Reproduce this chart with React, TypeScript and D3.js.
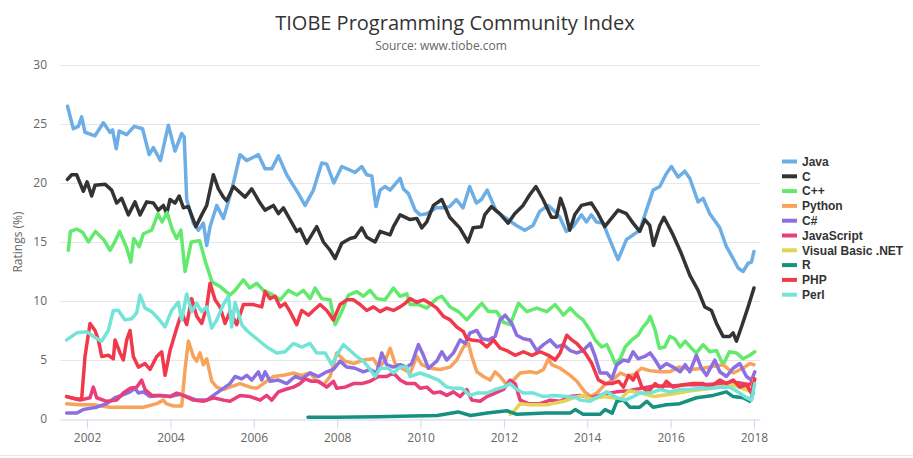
import React, { useRef, useEffect } from 'react';
import * as d3 from 'd3';

const WIDTH = 913;
const HEIGHT = 458;

// [year, rating %] pairs
const java = [[2001.53,26.5],[2001.67,24.6],[2001.79,24.8],[2001.87,25.6],[2001.95,24.3],[2002.19,24.0],[2002.39,25.1],[2002.55,24.3],[2002.61,24.5],[2002.70,22.9],[2002.77,24.4],[2002.95,24.1],[2003.13,24.8],[2003.33,24.6],[2003.49,22.4],[2003.59,23.0],[2003.76,21.9],[2003.95,24.9],[2004.11,22.7],[2004.27,24.2],[2004.33,23.9],[2004.39,18.6],[2004.55,16.6],[2004.67,16.0],[2004.79,16.6],[2004.87,14.7],[2004.95,16.3],[2005.11,18.1],[2005.27,17.0],[2005.47,19.4],[2005.67,22.4],[2005.83,21.9],[2006.11,22.4],[2006.27,21.2],[2006.43,21.2],[2006.59,22.3],[2006.79,20.7],[2007.07,19.1],[2007.23,18.1],[2007.43,19.4],[2007.63,21.7],[2007.75,21.6],[2007.92,20.0],[2008.11,21.4],[2008.43,20.9],[2008.59,21.4],[2008.71,20.7],[2008.83,20.6],[2008.93,18.0],[2009.03,19.4],[2009.15,19.7],[2009.27,19.4],[2009.51,20.4],[2009.59,19.5],[2009.71,19.1],[2009.87,17.7],[2009.99,17.3],[2010.15,17.4],[2010.38,17.9],[2010.54,17.9],[2010.70,18.0],[2010.86,18.6],[2011.02,17.9],[2011.18,19.7],[2011.34,18.3],[2011.46,18.6],[2011.60,19.4],[2011.82,17.6],[2012.06,17.0],[2012.30,16.4],[2012.50,16.0],[2012.70,16.4],[2012.86,17.6],[2013.06,18.1],[2013.22,17.6],[2013.34,17.1],[2013.50,15.9],[2013.66,16.3],[2013.86,17.3],[2013.98,16.7],[2014.10,17.3],[2014.22,16.7],[2014.38,16.6],[2014.54,15.2],[2014.74,13.5],[2014.94,15.2],[2015.10,15.6],[2015.26,16.0],[2015.42,17.7],[2015.58,19.4],[2015.74,19.7],[2015.90,20.8],[2016.02,21.4],[2016.18,20.5],[2016.34,21.0],[2016.46,20.4],[2016.66,18.4],[2016.78,18.7],[2016.94,17.4],[2017.18,16.2],[2017.34,14.6],[2017.50,13.6],[2017.62,12.8],[2017.74,12.5],[2017.86,13.2],[2017.94,13.3],[2018.0,14.2]];

const cLang = [[2001.53,20.3],[2001.63,20.7],[2001.75,20.7],[2001.91,19.3],[2002.0,20.1],[2002.11,18.9],[2002.19,19.8],[2002.43,19.9],[2002.59,19.4],[2002.71,18.3],[2002.83,18.7],[2002.99,17.3],[2003.15,18.4],[2003.27,17.3],[2003.43,18.4],[2003.59,18.3],[2003.71,17.7],[2003.83,18.1],[2003.91,17.4],[2003.99,18.6],[2004.11,18.3],[2004.21,18.9],[2004.31,17.9],[2004.43,18.0],[2004.61,16.3],[2004.75,17.3],[2004.87,18.1],[2005.03,20.7],[2005.15,19.5],[2005.27,18.8],[2005.35,18.5],[2005.51,19.7],[2005.79,18.8],[2005.95,19.5],[2006.15,18.3],[2006.27,17.7],[2006.47,18.1],[2006.59,17.4],[2006.71,17.9],[2006.87,16.9],[2007.03,15.9],[2007.11,16.1],[2007.27,14.9],[2007.51,16.3],[2007.67,15.0],[2007.83,14.3],[2007.95,13.6],[2008.11,14.9],[2008.31,15.3],[2008.43,15.4],[2008.59,16.2],[2008.71,15.4],[2008.91,15.0],[2009.03,15.9],[2009.27,15.6],[2009.35,16.3],[2009.51,17.3],[2009.75,16.9],[2009.91,17.0],[2010.03,16.2],[2010.15,16.7],[2010.31,18.1],[2010.51,18.6],[2010.70,17.1],[2010.94,16.2],[2011.14,15.0],[2011.26,16.2],[2011.46,16.3],[2011.54,17.3],[2011.70,18.0],[2011.90,17.4],[2012.10,16.6],[2012.26,17.4],[2012.46,18.1],[2012.62,19.0],[2012.77,19.7],[2012.94,18.6],[2013.14,17.1],[2013.26,17.1],[2013.36,18.7],[2013.46,17.7],[2013.58,16.0],[2013.70,17.3],[2013.86,18.1],[2014.10,18.3],[2014.26,17.4],[2014.42,16.3],[2014.58,17.0],[2014.74,17.7],[2014.94,17.4],[2015.10,16.6],[2015.26,15.9],[2015.38,16.9],[2015.50,16.4],[2015.59,14.7],[2015.74,16.4],[2015.84,17.1],[2016.06,15.6],[2016.26,14.0],[2016.46,12.2],[2016.66,10.9],[2016.82,9.5],[2016.98,9.2],[2017.10,8.1],[2017.26,7.0],[2017.42,7.0],[2017.50,7.3],[2017.58,6.6],[2017.70,7.8],[2017.86,9.5],[2018.0,11.1]];

const cpp = [[2001.55,14.3],[2001.6,15.9],[2001.75,16.1],[2001.9,15.8],[2002.03,15.0],[2002.2,15.9],[2002.4,15.2],[2002.55,14.3],[2002.65,14.9],[2002.78,15.9],[2002.95,14.5],[2003.05,13.3],[2003.12,15.3],[2003.25,14.6],[2003.35,15.7],[2003.55,16.0],[2003.7,17.4],[2003.8,16.7],[2003.92,17.5],[2004.05,16.0],[2004.15,15.3],[2004.25,16.0],[2004.35,12.5],[2004.5,15.0],[2004.7,15.1],[2004.85,13.2],[2005.0,11.6],[2005.2,11.2],[2005.43,10.5],[2005.55,10.9],[2005.75,11.8],[2005.9,11.1],[2006.07,11.5],[2006.23,10.9],[2006.47,10.5],[2006.63,10.1],[2006.83,10.9],[2007.03,10.5],[2007.19,10.9],[2007.35,10.2],[2007.47,11.1],[2007.63,10.2],[2007.83,10.1],[2007.95,8.0],[2008.11,9.1],[2008.27,10.5],[2008.47,10.8],[2008.63,10.4],[2008.79,10.9],[2008.95,10.2],[2009.15,10.1],[2009.35,11.1],[2009.51,10.4],[2009.67,10.6],[2009.75,9.7],[2009.95,9.7],[2010.15,9.4],[2010.39,10.2],[2010.51,10.4],[2010.71,9.5],[2010.91,9.1],[2011.11,8.4],[2011.31,9.2],[2011.47,9.8],[2011.63,9.1],[2011.83,9.1],[2011.99,8.2],[2012.15,8.0],[2012.35,9.8],[2012.55,9.1],[2012.79,9.4],[2013.03,9.1],[2013.23,9.7],[2013.43,8.8],[2013.59,9.4],[2013.75,8.8],[2013.9,8.4],[2014.07,7.5],[2014.19,6.7],[2014.35,6.1],[2014.47,6.3],[2014.59,5.4],[2014.67,4.7],[2014.79,5.1],[2014.91,6.1],[2015.07,6.7],[2015.22,7.1],[2015.34,7.8],[2015.44,8.2],[2015.51,8.7],[2015.63,7.5],[2015.73,6.0],[2015.86,6.1],[2015.98,7.0],[2016.1,6.8],[2016.23,6.1],[2016.35,6.6],[2016.5,6.0],[2016.62,5.6],[2016.78,6.3],[2016.94,5.7],[2017.1,5.8],[2017.26,4.6],[2017.41,5.7],[2017.58,5.6],[2017.74,5.1],[2017.9,5.4],[2018.02,5.7]];

const python = [[2001.51,1.3],[2001.8,1.2],[2002.15,1.2],[2002.55,1.0],[2002.95,1.0],[2003.35,1.0],[2003.67,1.3],[2003.83,1.6],[2003.9,1.3],[2004.07,1.1],[2004.27,1.1],[2004.35,4.2],[2004.43,6.6],[2004.55,5.3],[2004.63,4.9],[2004.71,5.6],[2004.79,4.6],[2004.87,5.1],[2004.99,3.2],[2005.11,2.7],[2005.27,2.5],[2005.43,2.7],[2005.67,3.0],[2005.91,2.7],[2006.07,2.6],[2006.23,3.0],[2006.47,3.6],[2006.71,3.7],[2006.95,3.9],[2007.15,3.7],[2007.35,3.9],[2007.51,3.2],[2007.67,2.9],[2007.83,3.6],[2007.99,5.6],[2008.19,4.9],[2008.39,4.7],[2008.63,5.0],[2008.87,5.1],[2008.99,4.4],[2009.15,4.9],[2009.27,6.0],[2009.39,4.7],[2009.55,4.3],[2009.75,3.9],[2009.91,5.3],[2010.03,4.6],[2010.23,4.3],[2010.47,4.2],[2010.71,4.4],[2010.87,5.0],[2011.03,6.1],[2011.15,6.4],[2011.23,5.3],[2011.35,4.0],[2011.51,3.6],[2011.67,3.3],[2011.79,4.0],[2011.91,3.6],[2012.07,2.9],[2012.23,3.3],[2012.39,3.9],[2012.63,4.0],[2012.79,3.9],[2012.95,4.2],[2013.07,5.1],[2013.15,4.6],[2013.35,4.3],[2013.59,3.7],[2013.75,3.2],[2013.94,2.3],[2014.1,1.9],[2014.26,2.3],[2014.42,2.9],[2014.6,3.3],[2014.8,3.9],[2014.98,3.6],[2015.14,3.8],[2015.3,4.3],[2015.5,4.1],[2015.74,4.0],[2015.98,4.0],[2016.2,4.4],[2016.5,4.2],[2016.78,4.3],[2017.1,4.5],[2017.26,4.6],[2017.5,3.9],[2017.74,4.3],[2017.9,4.7],[2018.0,4.6]];

const cSharp = [[2001.51,0.5],[2001.75,0.5],[2001.91,0.8],[2002.07,0.9],[2002.23,1.0],[2002.47,1.3],[2002.67,1.8],[2002.83,2.0],[2003.03,2.3],[2003.15,2.6],[2003.23,2.2],[2003.35,2.3],[2003.51,1.9],[2003.75,2.0],[2003.99,1.9],[2004.23,2.1],[2004.39,1.9],[2004.63,1.6],[2004.87,1.6],[2005.03,2.0],[2005.27,2.6],[2005.43,3.0],[2005.55,3.6],[2005.71,3.4],[2005.83,3.7],[2005.95,3.3],[2006.11,4.0],[2006.19,3.3],[2006.27,4.0],[2006.39,3.2],[2006.59,3.3],[2006.79,3.0],[2006.99,3.6],[2007.15,3.4],[2007.35,3.9],[2007.55,3.6],[2007.75,4.0],[2007.91,4.2],[2008.07,4.9],[2008.23,4.4],[2008.43,4.3],[2008.63,4.0],[2008.79,4.2],[2008.95,3.9],[2009.07,5.6],[2009.19,4.6],[2009.35,4.4],[2009.51,4.6],[2009.67,4.4],[2009.79,4.7],[2009.95,6.3],[2010.07,5.4],[2010.19,4.3],[2010.39,4.9],[2010.51,5.7],[2010.63,5.0],[2010.79,5.6],[2010.95,6.7],[2011.07,6.4],[2011.19,7.3],[2011.35,7.5],[2011.47,6.8],[2011.63,6.7],[2011.79,7.0],[2011.91,8.4],[2012.03,8.8],[2012.19,8.1],[2012.31,7.1],[2012.47,6.8],[2012.63,6.7],[2012.79,5.8],[2012.95,6.3],[2013.11,6.7],[2013.27,6.1],[2013.43,6.3],[2013.59,5.8],[2013.75,5.6],[2013.9,5.8],[2014.07,6.4],[2014.19,5.3],[2014.31,3.9],[2014.47,3.9],[2014.59,3.4],[2014.71,4.6],[2014.87,5.0],[2014.99,4.9],[2015.1,5.7],[2015.22,5.1],[2015.38,5.3],[2015.51,5.6],[2015.63,5.0],[2015.75,4.3],[2015.9,4.7],[2016.06,4.4],[2016.23,4.0],[2016.35,4.6],[2016.46,4.0],[2016.62,5.4],[2016.74,4.3],[2016.86,3.7],[2017.06,5.0],[2017.18,4.0],[2017.34,3.6],[2017.5,4.3],[2017.66,4.7],[2017.82,3.6],[2017.94,3.3],[2018.02,4.0]];

const javaScript = [[2001.51,1.9],[2001.83,1.6],[2002.07,1.8],[2002.15,2.7],[2002.23,1.8],[2002.47,1.5],[2002.71,1.6],[2002.87,2.2],[2003.03,2.6],[2003.19,2.7],[2003.31,3.3],[2003.39,2.5],[2003.55,2.0],[2003.75,2.0],[2003.99,1.9],[2004.15,2.2],[2004.31,2.0],[2004.55,1.6],[2004.79,1.5],[2005.03,1.8],[2005.27,1.6],[2005.43,1.5],[2005.67,2.0],[2005.91,1.9],[2006.15,1.6],[2006.31,2.0],[2006.43,1.6],[2006.59,2.3],[2006.75,2.5],[2006.95,2.7],[2007.11,3.0],[2007.23,3.4],[2007.39,3.2],[2007.55,3.2],[2007.75,2.7],[2007.91,3.2],[2007.99,2.6],[2008.19,2.7],[2008.39,3.0],[2008.59,3.0],[2008.79,3.2],[2008.99,3.6],[2009.19,3.6],[2009.35,3.9],[2009.51,3.3],[2009.67,3.0],[2009.87,3.0],[2009.99,2.6],[2010.15,2.7],[2010.31,2.2],[2010.47,2.3],[2010.63,2.0],[2010.79,2.3],[2010.95,1.9],[2011.11,2.5],[2011.23,1.6],[2011.43,1.5],[2011.59,1.9],[2011.79,2.2],[2011.99,2.5],[2012.15,3.3],[2012.27,3.0],[2012.39,1.6],[2012.59,1.3],[2012.87,1.3],[2013.11,1.6],[2013.35,1.5],[2013.58,1.9],[2013.83,2.0],[2014.1,1.8],[2014.4,2.1],[2014.7,2.3],[2015.0,2.4],[2015.3,2.6],[2015.6,2.8],[2016.0,2.8],[2016.4,2.9],[2016.8,2.9],[2017.2,3.0],[2017.6,3.1],[2017.9,2.9],[2018.0,3.4]];

const vbNet = [[2012.15,0.4],[2012.23,0.6],[2012.39,1.3],[2012.63,1.2],[2013.03,1.2],[2013.43,1.5],[2013.67,1.8],[2013.9,2.0],[2014.1,1.7],[2014.4,1.9],[2014.8,1.7],[2015.0,2.4],[2015.3,2.2],[2015.6,1.9],[2016.0,2.1],[2016.5,2.4],[2017.0,2.6],[2017.5,2.9],[2017.8,2.5],[2017.95,2.3],[2018.0,3.3]];

const rLang = [[2007.3,0.15],[2008.0,0.15],[2009.0,0.2],[2009.8,0.25],[2010.4,0.3],[2010.9,0.6],[2011.2,0.3],[2011.6,0.5],[2012.07,0.7],[2012.31,0.4],[2013.0,0.5],[2013.59,0.5],[2013.71,0.8],[2013.9,0.4],[2014.31,0.4],[2014.43,0.8],[2014.6,0.5],[2014.71,1.5],[2014.87,1.6],[2015.02,1.0],[2015.26,1.0],[2015.43,1.5],[2015.58,1.0],[2015.9,1.2],[2016.22,1.3],[2016.62,1.8],[2017.02,2.0],[2017.34,2.3],[2017.5,1.9],[2017.74,1.8],[2017.9,1.5],[2017.98,2.2]];

const php = [[2001.51,1.9],[2001.75,1.7],[2001.87,1.7],[2001.95,5.3],[2002.07,8.1],[2002.19,7.5],[2002.27,6.7],[2002.35,5.3],[2002.51,5.4],[2002.63,5.1],[2002.67,6.7],[2002.79,5.6],[2002.87,5.0],[2002.95,6.7],[2003.03,7.5],[2003.11,5.3],[2003.23,4.4],[2003.39,4.7],[2003.51,4.2],[2003.67,5.3],[2003.79,5.7],[2003.87,3.7],[2003.99,5.8],[2004.15,7.7],[2004.27,9.0],[2004.39,8.0],[2004.51,10.2],[2004.63,8.7],[2004.75,8.1],[2004.87,9.5],[2004.95,11.5],[2005.07,10.1],[2005.19,9.5],[2005.31,8.1],[2005.43,9.1],[2005.59,8.0],[2005.75,9.7],[2005.99,9.7],[2006.19,9.5],[2006.27,10.8],[2006.39,10.2],[2006.51,10.4],[2006.63,9.5],[2006.75,9.8],[2006.87,9.1],[2007.03,8.0],[2007.15,9.2],[2007.31,8.8],[2007.43,9.2],[2007.59,9.7],[2007.75,9.2],[2007.91,8.4],[2008.07,9.7],[2008.23,10.1],[2008.39,10.1],[2008.55,9.7],[2008.71,9.2],[2008.87,9.5],[2009.03,9.1],[2009.19,9.4],[2009.35,9.2],[2009.51,9.5],[2009.63,9.8],[2009.75,10.2],[2009.91,9.9],[2010.07,10.1],[2010.23,9.8],[2010.39,9.4],[2010.55,8.7],[2010.71,8.4],[2010.87,7.8],[2011.03,7.4],[2011.11,6.8],[2011.23,6.7],[2011.43,6.6],[2011.59,6.1],[2011.75,6.7],[2011.91,6.0],[2012.07,5.8],[2012.27,5.4],[2012.47,5.7],[2012.67,5.4],[2012.87,5.7],[2013.07,5.4],[2013.23,5.0],[2013.35,5.6],[2013.51,7.1],[2013.63,6.7],[2013.75,6.4],[2013.95,5.6],[2014.11,4.7],[2014.27,3.3],[2014.43,3.0],[2014.59,3.0],[2014.75,3.2],[2014.87,2.7],[2014.99,3.7],[2015.1,3.3],[2015.19,3.9],[2015.31,2.7],[2015.46,2.3],[2015.63,3.0],[2015.79,2.6],[2015.9,3.2],[2016.06,2.7],[2016.3,2.9],[2016.54,3.0],[2016.78,3.0],[2016.94,2.7],[2017.18,3.3],[2017.34,3.0],[2017.5,3.3],[2017.66,2.7],[2017.82,2.9],[2017.94,2.2],[2018.02,3.4]];

const perl = [[2001.51,6.7],[2001.75,7.3],[2001.99,7.4],[2002.15,7.0],[2002.35,6.6],[2002.51,7.5],[2002.63,9.2],[2002.75,9.2],[2002.91,8.4],[2003.07,8.5],[2003.19,9.0],[2003.27,10.5],[2003.39,9.4],[2003.55,9.1],[2003.71,8.5],[2003.87,7.8],[2004.03,9.2],[2004.19,9.9],[2004.27,8.4],[2004.39,10.6],[2004.51,9.1],[2004.63,9.8],[2004.75,9.1],[2004.87,9.5],[2004.99,7.7],[2005.11,8.4],[2005.27,9.7],[2005.39,10.4],[2005.47,7.8],[2005.55,9.9],[2005.71,8.0],[2005.83,7.5],[2006.07,6.8],[2006.31,6.1],[2006.55,5.6],[2006.75,5.7],[2006.95,6.4],[2007.15,6.1],[2007.35,6.4],[2007.51,5.6],[2007.71,5.6],[2007.87,4.6],[2007.99,5.4],[2008.15,6.3],[2008.31,5.8],[2008.47,5.3],[2008.63,4.9],[2008.79,4.2],[2008.91,3.6],[2009.03,4.3],[2009.23,4.3],[2009.35,3.9],[2009.51,4.4],[2009.67,4.4],[2009.75,3.6],[2009.99,3.9],[2010.23,3.6],[2010.43,3.3],[2010.63,2.7],[2010.79,2.6],[2010.99,2.6],[2011.19,2.0],[2011.35,2.2],[2011.59,2.2],[2011.79,2.5],[2011.99,2.7],[2012.15,3.0],[2012.31,2.5],[2012.47,2.2],[2012.71,2.2],[2012.95,1.9],[2013.19,2.0],[2013.51,1.9],[2013.75,1.8],[2013.83,1.6],[2014.07,1.5],[2014.27,1.9],[2014.47,2.3],[2014.71,1.8],[2014.91,1.6],[2015.1,1.9],[2015.26,2.2],[2015.51,2.2],[2015.75,2.5],[2015.98,2.3],[2016.23,2.5],[2016.46,2.5],[2016.7,2.6],[2016.94,2.6],[2017.18,2.7],[2017.42,2.7],[2017.62,2.3],[2017.78,1.9],[2017.94,1.6],[2018.02,3.0]];

const seriesNames = ['Java', 'C', 'C++', 'Python', 'C#', 'JavaScript', 'Visual Basic .NET', 'R', 'PHP', 'Perl'];
const seriesData = [java, cLang, cpp, python, cSharp, javaScript, vbNet, rLang, php, perl];
const seriesColors = ['#6caee5', '#333333', '#62ea6e', '#f7a35c', '#8c6fe0', '#e93e7a', '#e4d354', '#17917f', '#f0394b', '#74e3d8'];

const yTicks = [0, 5, 10, 15, 20, 25, 30];
const xTicks = [2002, 2004, 2006, 2008, 2010, 2012, 2014, 2016, 2018];

const FONT = "'Open Sans', 'DejaVu Sans', sans-serif";
const LEGEND_FONT = "'Liberation Sans', Arial, sans-serif";

function TiobeChart() {
  const svgRef = useRef(null);

  useEffect(() => {
    const svg = d3.select(svgRef.current);
    svg.selectAll('*').remove();

    const margin = { top: 65, right: 153, bottom: 39, left: 60 };
    const plotRight = WIDTH - margin.right;
    const plotBottom = HEIGHT - margin.bottom;

    const x = d3.scaleLinear()
      .domain([2001.35, 2018.145])
      .range([margin.left, plotRight]);

    const y = d3.scaleLinear()
      .domain([0, 30])
      .range([plotBottom, margin.top]);

    svg.append('rect')
      .attr('width', WIDTH)
      .attr('height', HEIGHT)
      .attr('fill', '#fff');

    // title + subtitle
    svg.append('text')
      .attr('x', 455)
      .attr('y', 30)
      .attr('text-anchor', 'middle')
      .attr('font-family', FONT)
      .attr('font-size', 20)
      .attr('fill', '#333')
      .text('TIOBE Programming Community Index');

    svg.append('text')
      .attr('x', 441)
      .attr('y', 50)
      .attr('text-anchor', 'middle')
      .attr('font-family', FONT)
      .attr('font-size', 12)
      .attr('fill', '#666')
      .text('Source: www.tiobe.com');

    // grid
    svg.append('g')
      .selectAll('line')
      .data(yTicks.filter(d => d > 0))
      .enter().append('line')
      .attr('x1', margin.left)
      .attr('x2', plotRight)
      .attr('y1', d => y(d) + 0.5)
      .attr('y2', d => y(d) + 0.5)
      .attr('stroke', '#e6e6e6')
      .attr('stroke-width', 1);

    const yAxis = g => g
      .attr('transform', `translate(${margin.left},0)`)
      .call(d3.axisLeft(y).tickValues(yTicks).tickSize(0).tickPadding(13))
      .call(g => g.select('.domain').remove())
      .call(g => g.selectAll('text')
        .attr('font-family', FONT)
        .attr('font-size', 12)
        .attr('fill', '#666'));

    const xAxis = g => g
      .attr('transform', `translate(0,${plotBottom + 0.5})`)
      .call(d3.axisBottom(x).tickValues(xTicks).tickFormat(d3.format('d')).tickSize(9).tickSizeOuter(0).tickPadding(5))
      .call(g => g.select('.domain').attr('stroke', '#ccd6eb'))
      .call(g => g.selectAll('.tick line').attr('stroke', '#ccd6eb'))
      .call(g => g.selectAll('text')
        .attr('font-family', FONT)
        .attr('font-size', 12)
        .attr('fill', '#666'));

    svg.append('g').call(yAxis);
    svg.append('g').call(xAxis);

    svg.append('text')
      .attr('transform', `translate(22,${(margin.top + plotBottom) / 2}) rotate(-90)`)
      .attr('text-anchor', 'middle')
      .attr('font-family', FONT)
      .attr('font-size', 12)
      .attr('fill', '#666')
      .text('Ratings (%)');

    // series
    const line = d3.line()
      .x(d => x(d[0]))
      .y(d => y(d[1]));

    seriesData.forEach((data, i) => {
      svg.append('path')
        .datum(data)
        .attr('fill', 'none')
        .attr('stroke', seriesColors[i])
        .attr('stroke-width', 3.5)
        .attr('stroke-linejoin', 'round')
        .attr('stroke-linecap', 'round')
        .attr('d', line);
    });

    // legend
    const legend = svg.append('g')
      .attr('font-family', LEGEND_FONT)
      .attr('font-size', 12)
      .attr('font-weight', 'bold')
      .selectAll('g')
      .data(seriesNames)
      .enter().append('g')
      .attr('transform', (d, i) => `translate(782,${161.5 + i * 14.8})`);

    legend.append('line')
      .attr('x1', 0)
      .attr('x2', 15)
      .attr('stroke', (d, i) => seriesColors[i])
      .attr('stroke-width', 4);

    legend.append('text')
      .attr('x', 20)
      .attr('dy', '0.35em')
      .attr('fill', '#333')
      .text(d => d);

    svg.append('line')
      .attr('x1', 0)
      .attr('x2', WIDTH)
      .attr('y1', 455.5)
      .attr('y2', 455.5)
      .attr('stroke', '#e8e8e8');
  }, []);

  return (
    <svg
      ref={svgRef}
      width={WIDTH}
      height={HEIGHT}
      style={{ position: 'absolute', left: 0, top: 0, display: 'block' }}
    />
  );
}

export default function App() {
  return <TiobeChart />;
}
